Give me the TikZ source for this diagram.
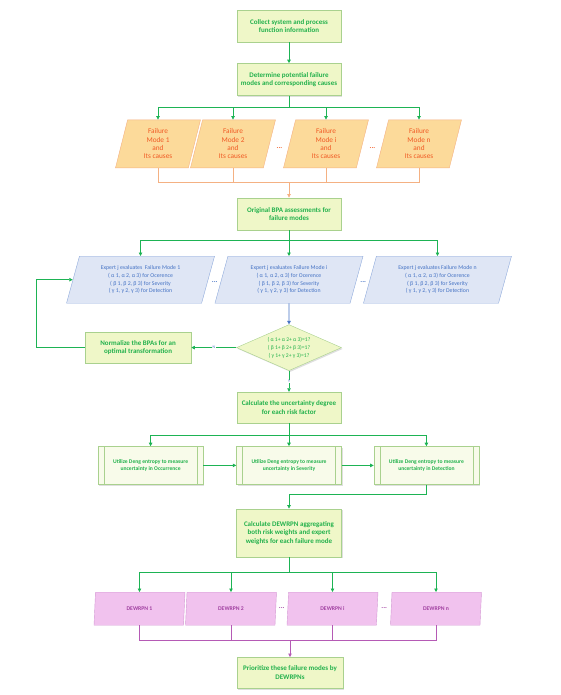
\documentclass[tikz,border=0pt]{standalone}
\usepackage{fontspec}
\setmainfont{Carlito}
\usetikzlibrary{positioning, calc, shapes.geometric, shadows, arrows.meta}

\definecolor{boxfill}{HTML}{EFF7C8}
\definecolor{boxline}{HTML}{A9D18E}
\definecolor{boxtext}{HTML}{22B14C}
\definecolor{subfill}{HTML}{F8FBEA}
\definecolor{arrowgreen}{HTML}{1DB354}
\definecolor{fmfill}{HTML}{FCDA9A}
\definecolor{fmline}{HTML}{F4B183}
\definecolor{fmtext}{HTML}{F05A24}
\definecolor{expfill}{HTML}{DFE6F5}
\definecolor{expline}{HTML}{8FAADC}
\definecolor{exptext}{HTML}{4472C4}
\definecolor{rpnfill}{HTML}{F1C2EE}
\definecolor{rpnline}{HTML}{D49AD4}
\definecolor{rpntext}{HTML}{A040A0}
\definecolor{rpnarrow}{HTML}{B55AB5}

\begin{document}
\begin{tikzpicture}[x=1pt, y=1pt,
		proc/.style={rectangle, draw=boxline, fill=boxfill, text=boxtext, align=center, inner sep=0pt, minimum width=104pt, minimum height=32pt, font=\fontsize{7}{8.4}\selectfont\bfseries, drop shadow={shadow xshift=1.3pt, shadow yshift=-1.3pt, opacity=0.25}},
		subproc/.style={proc, fill=subfill, minimum width=105pt, minimum height=38pt, font=\fontsize{5.6}{7}\selectfont\bfseries, path picture={\draw[boxline] ([xshift=6pt]path picture bounding box.north west) -- ([xshift=6pt]path picture bounding box.south west);
		\draw[boxline] ([xshift=-6pt]path picture bounding box.north east) -- ([xshift=-6pt]path picture bounding box.south east);}},
		fmode/.style={trapezium, trapezium left angle=68, trapezium right angle=112, trapezium stretches body, draw=fmline, fill=fmfill, text=fmtext, align=center, inner sep=0pt, minimum width=85pt, minimum height=48pt, font=\fontsize{7.3}{8.3}\selectfont},
		expert/.style={trapezium, trapezium left angle=65, trapezium right angle=115, trapezium stretches body, draw=expline, fill=expfill, text=exptext, align=center, inner sep=0pt, minimum width=148pt, minimum height=47pt, font=\fontsize{5.8}{7.6}\selectfont},
		rpn/.style={trapezium, trapezium left angle=68, trapezium right angle=112, trapezium stretches body, draw=rpnline, fill=rpnfill, text=rpntext, align=center, inner sep=0pt, minimum width=91pt, minimum height=33pt, font=\fontsize{5.7}{6}\selectfont\bfseries},
		check/.style={diamond, aspect=2.28, draw=boxline, fill=boxfill, text=boxtext, align=center, inner sep=-2pt, minimum width=105pt, minimum height=46pt, font=\fontsize{5.6}{8}\selectfont, drop shadow={shadow xshift=1.3pt, shadow yshift=-1.3pt, opacity=0.25}},
		dots/.style={font=\fontsize{7}{7}\selectfont\bfseries},
		yn/.style={fill=white, inner sep=0.5pt, text=exptext, font=\fontsize{4}{4}\selectfont},
		gline/.style={draw=arrowgreen, line width=0.7pt},
		oline/.style={draw=fmline, line width=0.7pt},
		bline/.style={draw=exptext, line width=0.7pt},
		pline/.style={draw=rpnarrow, line width=0.7pt},
		>={Triangle[length=3.5pt, width=3.5pt]}
	]

	\useasboundingbox (0,0) rectangle (561,-695);

	\node[proc] (collect) at (289,-26) {Collect system and process\\function information};
	\node[proc, below=21pt of collect] (determine) {Determine potential failure\\modes and corresponding causes};

	\node[fmode, below=24pt of determine, xshift=-131pt] (fm1) {Failure\\Mode 1\\and\\Its causes};
	\node[fmode, below=24pt of determine, xshift=-56pt] (fm2) {Failure\\Mode 2\\and\\Its causes};
	\node[fmode, below=24pt of determine, xshift=37pt] (fmi) {Failure\\Mode i\\and\\Its causes};
	\node[fmode, below=24pt of determine, xshift=130pt] (fmn) {Failure\\Mode n\\and\\Its causes};
	\node[dots, text=fmtext] (fdots1) at ($(fm2)!0.5!(fmi)+(0,-4pt)$) {...};
	\node[dots, text=fmtext] (fdots2) at ($(fmi)!0.5!(fmn)+(0,-4pt)$) {...};

	\node[proc, below=102pt of determine] (original) {Original BPA assessments for\\failure modes};

	\node[expert, below=26pt of original] (expi) {Expert j evaluates Failure Mode i\\( α 1, α 2, α 3) for Ocerence\\( β 1, β 2, β 3) for Severity\\( γ 1, γ 2, γ 3) for Detection};
	\node[expert, left=13pt of expi] (exp1) {Expert j evaluates\ \ Failure Mode 1\\( α 1, α 2, α 3) for Ocerence\\( β 1, β 2, β 3) for Severity\\( γ 1, γ 2, γ 3) for Detection};
	\node[expert, right=13pt of expi] (expn) {Expert j evaluates Failure Mode n\\( α 1, α 2, α 3) for Ocerence\\( β 1, β 2, β 3) for Severity\\( γ 1, γ 2, γ 3) for Detection};
	\node[dots, text=exptext] (edots1) at ($(exp1)!0.5!(expi)+(0,-2pt)$) {...};
	\node[dots, text=exptext] (edots2) at ($(expi)!0.5!(expn)+(0,-2pt)$) {...};

	\node[check, below=21pt of expi] (sum) {( α 1+ α 2+ α 3)=1?\\( β 1+ β 2+ β 3)=1?\\( γ 1+ γ 2+ γ 3)=1?};
	\node[proc, left=45pt of sum, minimum width=106pt, minimum height=31pt] (norm) {Normalize the BPAs for an\\optimal transformation};
	\node[proc, below=21pt of sum, minimum height=31pt] (unc) {Calculate the uncertainty degree\\for each risk factor};

	\node[subproc, below=23pt of unc] (u2) {Utilize Deng entropy to measure\\uncertainty in Severity};
	\node[subproc, left=33pt of u2] (u1) {Utilize Deng entropy to measure\\uncertainty in Occurrence};
	\node[subproc, right=32pt of u2] (u3) {Utilize Deng entropy to measure\\uncertainty in Detection};

	\node[proc, below=24pt of u2, minimum width=105pt, minimum height=48pt] (dew) {Calculate DEWRPN aggregating\\both risk weights and expert\\weights for each failure mode};

	\node[rpn, below=35pt of dew, xshift=-149.5pt] (rpn1) {DEWRPN 1};
	\node[rpn, below=35pt of dew, xshift=-58pt] (rpn2) {DEWRPN 2};
	\node[rpn, below=35pt of dew, xshift=43.5pt] (rpni) {DEWRPN i};
	\node[rpn, below=35pt of dew, xshift=147pt] (rpnn) {DEWRPN n};
	\node[dots, text=rpntext] (rdots1) at ($(rpn2)!0.5!(rpni)+(0,1pt)$) {...};
	\node[dots, text=rpntext] (rdots2) at ($(rpni)!0.5!(rpnn)+(0,1pt)$) {...};

	\node[proc, below=100pt of dew, xshift=1pt, minimum width=106pt, minimum height=31pt] (final) {Prioritize these failure modes by\\DEWRPNs};

	% split and join points
	\coordinate[below=12pt of determine] (split1);
	\coordinate[above=15pt of original] (join1);
	\coordinate[below=10pt of original] (split2);
	\coordinate[below=12pt of unc] (split3);
	\coordinate[above=14pt of dew] (join2);
	\coordinate[below=15pt of dew] (split4);
	\coordinate[above=17pt of final] (join3);
	\coordinate[left=49pt of norm] (loop);

	\draw[gline, ->] (collect) -- (determine);
	\draw[gline] (determine) -- (split1);
	\foreach \j in {fm1, fm2, fmi, fmn}
		\draw[gline, ->] (split1) -| (\j);

	\foreach \i in {fm1, fm2, fmi, fmn}
		\draw[oline] (\i) |- (join1);
	\draw[oline, ->] (join1) -- (original);

	\draw[gline] (original) -- (split2);
	\foreach \j in {exp1, expi, expn}
		\draw[gline, ->] (split2) -| (\j);

	\draw[bline, ->] (expi) -- (sum);
	\draw[gline, ->] (sum) -- node[yn] {N} (norm);
	\draw[gline, ->] (norm) -- (loop) |- (exp1);
	\draw[gline, ->] (sum) -- node[yn] {Y} (unc);

	\draw[gline] (unc) -- (split3);
	\foreach \j in {u1, u2, u3}
		\draw[gline, ->] (split3) -| (\j);
	\foreach \i/\j in {u1/u2, u2/u3}
		\draw[gline, ->] (\i) -- (\j);
	\draw[gline] (u3) |- (join2);
	\draw[gline, ->] (join2) -- (dew);

	\draw[gline] (dew) -- (split4);
	\foreach \j in {rpn1, rpn2, rpni, rpnn}
		\draw[gline, ->] (split4) -| (\j);

	\foreach \i in {rpn1, rpn2, rpni, rpnn}
		\draw[pline] (\i) |- (join3);
	\draw[pline, ->] (join3) -- (final);

\end{tikzpicture}
\end{document}
